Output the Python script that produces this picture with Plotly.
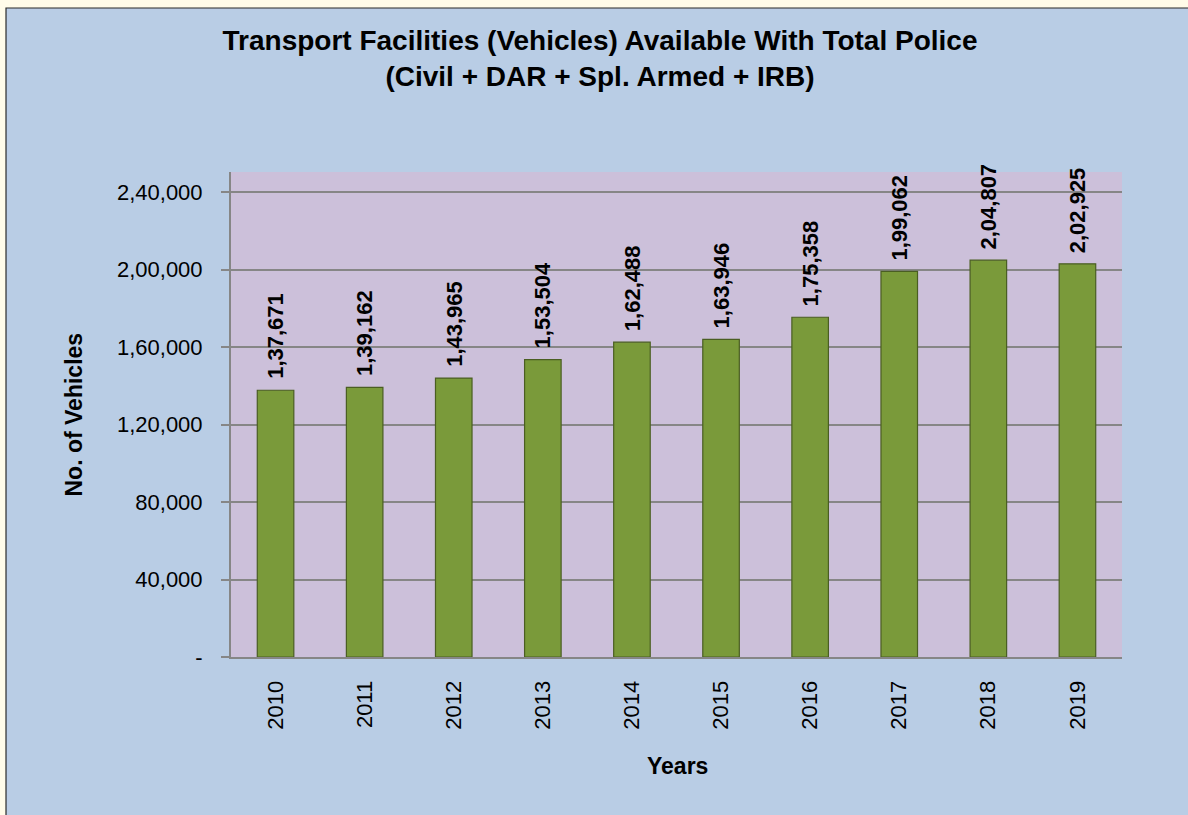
import plotly.graph_objects as go

years = ["2010", "2011", "2012", "2013", "2014", "2015", "2016", "2017", "2018", "2019"]
vehicles = [137671, 139162, 143965, 153504, 162488, 163946, 175358, 199062, 204807, 202925]
vehicle_labels = ["1,37,671", "1,39,162", "1,43,965", "1,53,504", "1,62,488",
                  "1,63,946", "1,75,358", "1,99,062", "2,04,807", "2,02,925"]
ytick_vals = [0, 40000, 80000, 120000, 160000, 200000, 240000]
ytick_text = ["-", "40,000", "80,000", "1,20,000", "1,60,000", "2,00,000", "2,40,000"]

W, H = 1188, 815
L, R, T, B = 231, W - 1122, 172, H - 657
pw, ph = W - L - R, H - T - B

FONT = "Liberation Sans, Arial, sans-serif"

fig = go.Figure()
fig.add_trace(go.Bar(
    x=years, y=vehicles,
    marker=dict(color="#7A9A3A", line=dict(color="#4A5E22", width=1.2)),
    width=0.41,
    hoverinfo="skip",
))

annotations = []
for i, (v, lab) in enumerate(zip(vehicles, vehicle_labels)):
    annotations.append(dict(
        x=i, y=v, xref="x", yref="y", text=lab, showarrow=False,
        textangle=-90, yanchor="bottom", xanchor="center", yshift=9,
        font=dict(family=FONT, size=22, color="black", weight="bold"),
    ))
annotations.append(dict(
    x=(73 - L) / pw, y=0.5, xref="paper", yref="paper", text="No. of Vehicles",
    showarrow=False, textangle=-90, xanchor="center", yanchor="middle",
    font=dict(family=FONT, size=23, color="black", weight="bold"),
))
annotations.append(dict(
    x=(677 - L) / pw, y=(657 - 766) / ph, xref="paper", yref="paper", text="Years",
    showarrow=False, xanchor="center", yanchor="middle",
    font=dict(family=FONT, size=23, color="black", weight="bold"),
))

shapes = [
    dict(type="rect", xref="paper", yref="paper", layer="below",
         x0=(6 - L) / pw, x1=(W + 5 - L) / pw,
         y0=-(B + 5) / ph, y1=(H - 8 - B) / ph,
         fillcolor="#B9CDE5", line=dict(color="#2B2B2B", width=1.2)),
    dict(type="rect", xref="paper", yref="paper", layer="below",
         x0=0, x1=1, y0=0, y1=1, fillcolor="#CCC0DA", line=dict(width=0)),
]

fig.update_layout(
    width=W, height=H,
    margin=dict(l=L, r=R, t=T, b=B),
    paper_bgcolor="#FFFCE9",
    plot_bgcolor="rgba(0,0,0,0)",
    showlegend=False,
    title=dict(
        text="Transport Facilities (Vehicles) Available With Total Police<br>(Civil + DAR + Spl. Armed + IRB)",
        x=600 / W, xanchor="center", y=1 - 50 / H, yanchor="middle",
        font=dict(family=FONT, size=28, color="black", weight="bold"),
    ),
    xaxis=dict(
        type="category", range=[-0.5, 9.5], tickangle=-90, ticks="", showgrid=False,
        showline=True, linecolor="#868686", linewidth=2,
        tickfont=dict(family=FONT, size=22, color="black"),
        ticklabelstandoff=13,
    ),
    yaxis=dict(
        range=[0, 240000 * (657 - T) / (657 - 192)],
        tickvals=ytick_vals, ticktext=ytick_text,
        showgrid=True, gridcolor="#868686", gridwidth=2,
        showline=True, linecolor="#868686", linewidth=2,
        ticks="outside", ticklen=8, tickcolor="#868686", tickwidth=2,
        tickfont=dict(family=FONT, size=22, color="black"),
        ticklabelstandoff=14, zeroline=False,
    ),
    annotations=annotations,
    shapes=shapes,
)

fig.write_html(
    "out.html",
    config={"displayModeBar": False},
    post_script="document.body.style.margin='0';document.body.style.background='#FFFCE9';",
)
